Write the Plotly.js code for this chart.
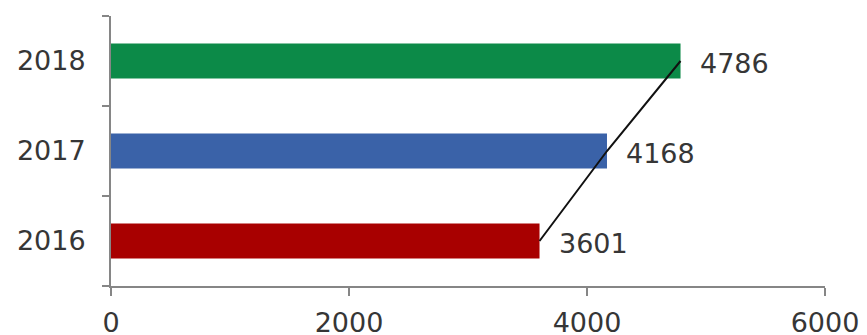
<!DOCTYPE html>
<html>
<head>
<meta charset="utf-8">
<script src="https://cdn.plot.ly/plotly-3.0.1.min.js"></script>
<style>
  html, body { margin: 0; padding: 0; background: #fff; }
  #chart { width: 867px; height: 335px; }
</style>
</head>
<body>
<div id="chart"></div>
<script>
// Yearly totals, one bar per year
const years = ['2016', '2017', '2018'];
const values = [3601, 4168, 4786];
const barColors = ['#a80000', '#3a62a8', '#0c8a48'];
const xTicks = [0, 2000, 4000, 6000];

const textFont = () => ({ family: 'DejaVu Sans, sans-serif', size: 27, color: '#363636' });
const axisColor = '#868686';

const bars = {
  type: 'bar',
  orientation: 'h',
  x: values,
  y: years,
  marker: { color: barColors, line: { width: 0 } },
  hoverinfo: 'skip',
  showlegend: false
};

// Trend line joining the ends of the bars
const trend = {
  type: 'scatter',
  mode: 'lines',
  x: values,
  y: years,
  line: { color: '#111111', width: 2 },
  hoverinfo: 'skip',
  showlegend: false
};

// Value labels to the right of each bar (category axis: position by index)
const labels = years.map((yr, i) => ({
  x: values[i],
  y: i,
  xref: 'x',
  yref: 'y',
  text: String(values[i]),
  showarrow: false,
  xanchor: 'left',
  yanchor: 'middle',
  xshift: 17,
  yshift: -2,
  font: textFont()
}));

const layout = {
  width: 867,
  height: 335,
  margin: { l: 111, r: 42, t: 16, b: 49 },
  paper_bgcolor: '#ffffff',
  plot_bgcolor: '#ffffff',
  bargap: 0.61,
  font: textFont(),
  xaxis: {
    range: [0, 6000],
    tickvals: xTicks,
    ticktext: xTicks.map(String),
    ticks: 'outside',
    ticklen: 8,
    tickwidth: 2,
    tickcolor: axisColor,
    showline: true,
    linecolor: axisColor,
    linewidth: 2,
    showgrid: false,
    zeroline: false,
    ticklabelstandoff: 4,
    tickfont: textFont(),
    fixedrange: true
  },
  yaxis: {
    type: 'category',
    categoryorder: 'array',
    categoryarray: years,
    range: [-0.5, 2.5],
    ticks: 'outside',
    tickson: 'boundaries',
    ticklen: 7,
    tickwidth: 2,
    tickcolor: axisColor,
    showline: true,
    linecolor: axisColor,
    linewidth: 2,
    showgrid: false,
    zeroline: false,
    ticklabelstandoff: 18,
    tickfont: textFont(),
    fixedrange: true
  },
  annotations: labels
};

Plotly.newPlot('chart', [bars, trend], layout, { displayModeBar: false, staticPlot: true });
</script>
</body>
</html>
